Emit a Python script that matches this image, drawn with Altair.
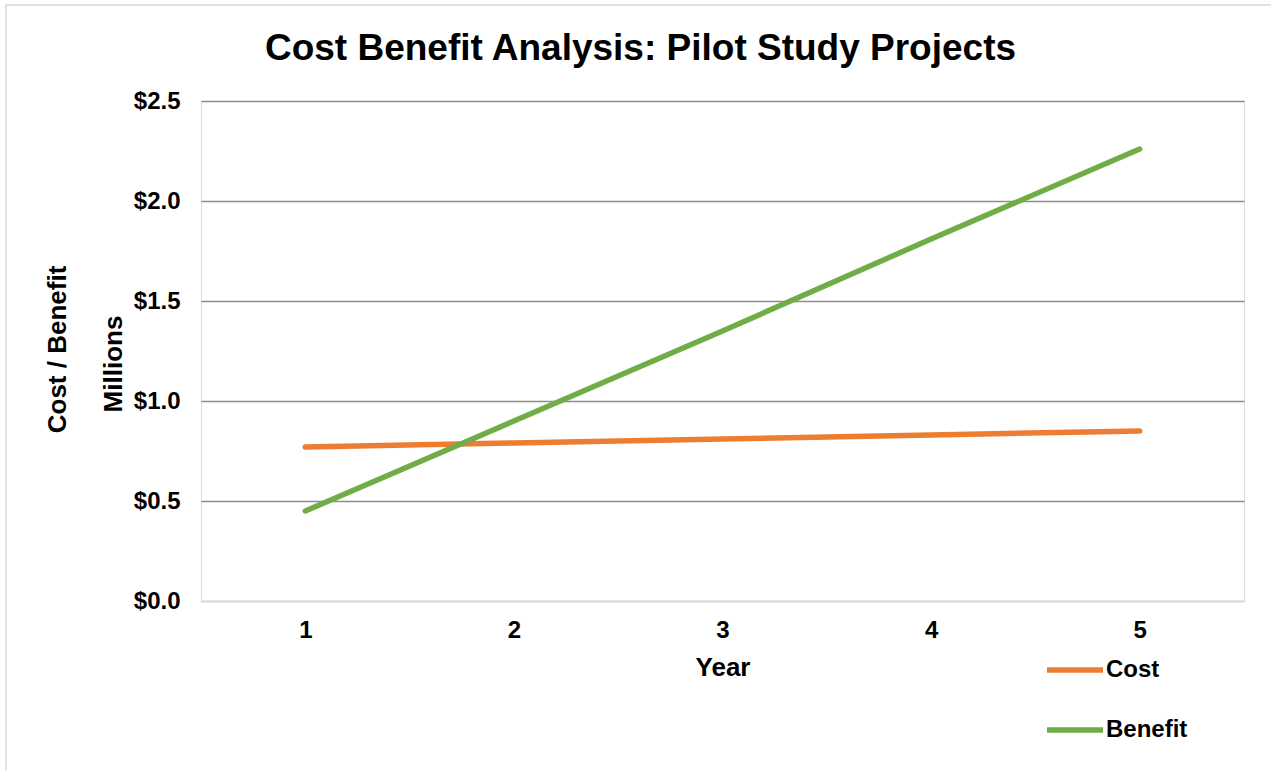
import altair as alt
import pandas as pd

# ---- data ----
years = ["1", "2", "3", "4", "5"]
cost = [0.77, 0.79, 0.81, 0.83, 0.85]
benefit = [0.45, 0.90, 1.35, 1.81, 2.26]
series = ["Cost", "Benefit"]
colors = ["#ED7D31", "#70AD47"]
y_ticks = [0, 0.5, 1.0, 1.5, 2.0, 2.5]

df = pd.DataFrame({
    "Year": years * 2,
    "Series": ["Cost"] * len(years) + ["Benefit"] * len(years),
    "Value": cost + benefit,
})

FONT = "Liberation Sans"
W, H = 1043, 500

x_enc = alt.X(
    "Year:O",
    sort=years,
    scale=alt.Scale(type="point", padding=0.5),
    axis=alt.Axis(
        title="Year", labelAngle=0, ticks=False, tickSize=0, labelPadding=17,
        domainColor="#d9d9d9", domainWidth=2, grid=False,
        labelFont=FONT, labelFontSize=24, labelFontWeight="bold", labelColor="black",
        titleFont=FONT, titleFontSize=26, titleFontWeight="bold", titleColor="black",
        titleY=74, titleBaseline="alphabetic",
    ),
)
y_enc = alt.Y(
    "Value:Q",
    scale=alt.Scale(domain=[0, 2.5]),
    axis=alt.Axis(
        values=y_ticks, format="$.1f", title="Cost / Benefit",
        domain=False, ticks=False, tickSize=0, labelPadding=21,
        grid=True, gridWidth=1.5,
        gridColor=alt.condition("datum.value == 0", alt.value("#d9d9d9"), alt.value("#8c8c8c")),
        labelFont=FONT, labelFontSize=24, labelFontWeight="bold", labelColor="black",
        titleFont=FONT, titleFontSize=26, titleFontWeight="bold", titleColor="black",
        titleAngle=270, titleX=-136, titleY=248, titleBaseline="alphabetic", titleAlign="center",
    ),
)
color_enc = alt.Color(
    "Series:N",
    scale=alt.Scale(domain=series, range=colors),
    legend=alt.Legend(
        title=None, orient="none", legendX=843, legendY=538, direction="vertical",
        symbolType="stroke", symbolSize=3136, symbolStrokeWidth=5.5,
        labelFont=FONT, labelFontSize=24, labelFontWeight="bold", labelColor="black",
        labelOffset=0, rowPadding=17, padding=0,
    ),
)

base = alt.Chart(df)
cost_line = base.transform_filter(alt.datum.Series == "Cost").mark_line(
    strokeWidth=5.5, strokeCap="round").encode(x=x_enc, y=y_enc, color=color_enc)
benefit_line = base.transform_filter(alt.datum.Series == "Benefit").mark_line(
    strokeWidth=5.5, strokeCap="round").encode(x=x_enc, y=y_enc, color=color_enc)

one = pd.DataFrame({"k": [0]})
border = alt.Chart(one).mark_rect(fill="transparent", stroke="#d9d9d9", strokeWidth=1.5).encode(
    x=alt.value(-195), x2=alt.value(1150), y=alt.value(-96), y2=alt.value(750))
millions = alt.Chart(one).mark_text(
    text="Millions", angle=270, font=FONT, fontSize=26, fontWeight="bold",
    color="black", baseline="alphabetic", align="center").encode(
    x=alt.value(-79), y=alt.value(263))

chart = alt.layer(border, cost_line, benefit_line, millions).properties(
    width=W, height=H,
    title=alt.TitleParams(
        "Cost Benefit Analysis: Pilot Study Projects", font=FONT, fontSize=37,
        fontWeight="bold", color="black", anchor="middle", dx=-82, dy=84, offset=20),
    autosize=alt.AutoSizeParams(type="none"),
    padding={"left": 201, "top": 101, "right": 27, "bottom": 169},
).configure_view(stroke=None).configure(background="white")

chart.save("out.html", embed_options={"renderer": "svg", "actions": False})
